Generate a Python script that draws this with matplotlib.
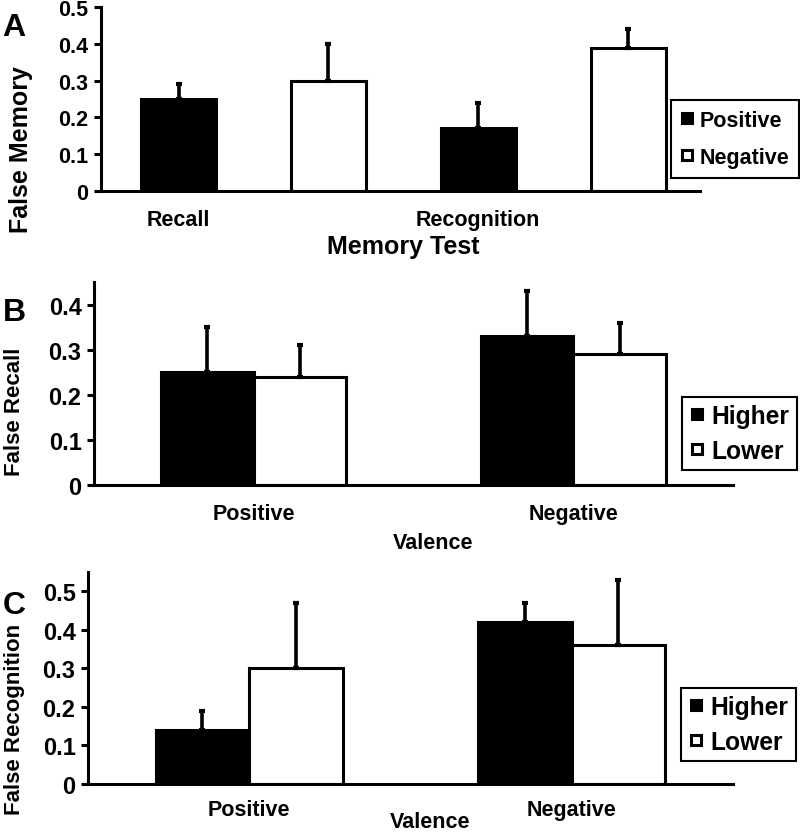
import matplotlib
matplotlib.use('Agg')
import matplotlib.pyplot as plt
from matplotlib.lines import Line2D

plt.rcParams['font.family'] = ['Liberation Sans', 'DejaVu Sans']
plt.rcParams['font.weight'] = 'bold'
plt.rcParams['axes.labelweight'] = 'bold'

# panel A: false memory by memory test
tests = ['Recall', 'Recognition']
a_positive = [0.25, 0.17]
a_positive_err = [0.04, 0.07]
a_negative = [0.30, 0.39]
a_negative_err = [0.10, 0.05]

# panel B: false recall by valence
valence = ['Positive', 'Negative']
b_higher = [0.25, 0.33]
b_higher_err = [0.10, 0.10]
b_lower = [0.24, 0.29]
b_lower_err = [0.07, 0.07]

# panel C: false recognition by valence
c_higher = [0.14, 0.42]
c_higher_err = [0.05, 0.05]
c_lower = [0.30, 0.36]
c_lower_err = [0.17, 0.17]

LW = 2.2


def style_axes(ax, ymax, ticks):
    ax.spines['top'].set_visible(False)
    ax.spines['right'].set_visible(False)
    ax.spines['left'].set_linewidth(LW)
    ax.spines['bottom'].set_linewidth(LW)
    ax.set_ylim(0, ymax)
    ax.set_yticks(ticks)
    ax.set_yticklabels([f'{t:g}' for t in ticks])
    ax.tick_params(axis='y', direction='out', length=5, width=LW, pad=4)
    ax.tick_params(axis='x', length=0, pad=13)


def draw_bars(ax, x, vals, errs, color, width):
    ax.bar(x, vals, width, color=color, edgecolor='black', linewidth=LW, zorder=2)
    ax.errorbar(x, vals, yerr=[[0] * len(vals), errs], fmt='none', ecolor='black',
                elinewidth=2.6, capsize=2.2, capthick=3, zorder=3)


def legend_handles(labels):
    h = [Line2D([], [], marker='s', linestyle='none', markersize=7.2, markerfacecolor=c,
                markeredgecolor='black', markeredgewidth=2.2) for c in ['black', 'white']]
    return h, labels


fig = plt.figure(figsize=(8, 8.37), dpi=100)

# ---- A ----
axA = fig.add_axes([0.126, 0.7706, 0.749, 0.2198])
xa_pos = [2 * i for i in range(len(tests))]
xa_neg = [2 * i + 1 for i in range(len(tests))]
draw_bars(axA, xa_pos, a_positive, a_positive_err, 'black', 0.5)
draw_bars(axA, xa_neg, a_negative, a_negative_err, 'white', 0.5)
axA.set_xlim(-0.52, 3.48)
style_axes(axA, 0.5, [0, 0.1, 0.2, 0.3, 0.4, 0.5])
axA.set_xticks(xa_pos)
axA.set_xticklabels(tests, fontsize=15.5)
axA.tick_params(axis='y', labelsize=15.5)
axA.set_ylabel('False Memory', fontsize=18)
axA.yaxis.set_label_coords(-0.113, 0.23)
axA.set_xlabel('Memory Test', fontsize=18)
axA.xaxis.set_label_coords(0.505, -0.234)
h, l = legend_handles(['Positive', 'Negative'])
fig.legend(h, l, loc='center', bbox_to_anchor=(0.919, 0.833), fontsize=15.5,
           frameon=True, fancybox=False, edgecolor='black', framealpha=1,
           handlelength=0.6, handletextpad=0.3, labelspacing=0.75, borderpad=0.45,
           borderaxespad=0).get_frame().set_linewidth(1.5)
fig.text(0.003, 0.9665, 'A', fontsize=23, fontweight='bold', va='center', ha='left')

# ---- B and C ----
w = 0.29
for rect, hi, hi_e, lo, lo_e, ymax, ticks, ylab, ycoords, xl_y, xpad, leg_c, letter, letter_y in [
    ([0.1175, 0.4194, 0.799, 0.2425], b_higher, b_higher_err, b_lower, b_lower_err,
     0.45, [0, 0.1, 0.2, 0.3, 0.4], 'False Recall', (-0.108, 0.365), -0.232, 13,
     (0.924, 0.4809), 'B', 0.626),
    ([0.11, 0.0621, 0.806, 0.2533], c_higher, c_higher_err, c_lower, c_lower_err,
     0.55, [0, 0.1, 0.2, 0.3, 0.4, 0.5], 'False Recognition', (-0.098, 0.307), -0.128, 11,
     (0.923, 0.1332), 'C', 0.276),
]:
    ax = fig.add_axes(rect)
    x = list(range(len(valence)))
    draw_bars(ax, [i - w / 2 for i in x], hi, hi_e, 'black', w)
    draw_bars(ax, [i + w / 2 for i in x], lo, lo_e, 'white', w)
    ax.set_xlim(-0.5, 1.5)
    style_axes(ax, ymax, ticks)
    ax.tick_params(axis='x', pad=xpad)
    ax.set_xticks(x)
    ax.set_xticklabels(valence, fontsize=15.5)
    ax.tick_params(axis='y', labelsize=17)
    ax.set_ylabel(ylab, fontsize=16)
    ax.yaxis.set_label_coords(*ycoords)
    ax.set_xlabel('Valence', fontsize=15.5)
    ax.xaxis.set_label_coords(0.53, xl_y)
    h, l = legend_handles(['Higher', 'Lower'])
    fig.legend(h, l, loc='center', bbox_to_anchor=leg_c, fontsize=17.7,
               frameon=True, fancybox=False, edgecolor='black', framealpha=1,
               handlelength=0.6, handletextpad=0.3, labelspacing=0.45, borderpad=0.3,
               borderaxespad=0).get_frame().set_linewidth(1.5)
    fig.text(0.003, letter_y, letter, fontsize=23, fontweight='bold', va='center', ha='left')

fig.savefig('out.png', dpi=100)
